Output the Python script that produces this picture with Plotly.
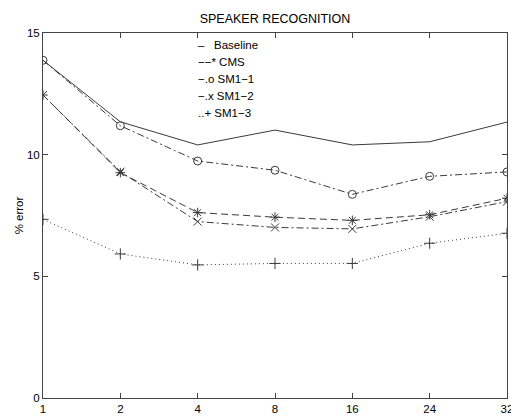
import plotly.graph_objects as go

categories = ["1", "2", "4", "8", "16", "24", "32"]
baseline = [13.88, 11.35, 10.40, 11.01, 10.40, 10.53, 11.34]
cms = [12.45, 9.26, 7.62, 7.43, 7.30, 7.53, 8.21]
sm1_1 = [13.88, 11.19, 9.74, 9.36, 8.37, 9.11, 9.29]
sm1_2 = [12.45, 9.30, 7.25, 7.01, 6.95, 7.45, 8.07]
sm1_3 = [7.34, 5.92, 5.47, 5.53, 5.53, 6.36, 6.77]
legend_labels = ["\u2013   Baseline", "\u2212\u2212* CMS", "\u2212.o SM1\u22121", "\u2212.x SM1\u22122", "..+ SM1\u22123"]
y_ticks = [0, 5, 10, 15]

xpos = list(range(len(categories)))
font = "Liberation Sans, Arial, Helvetica, sans-serif"
col = "#3a3a3a"

L, R, T, B = 43, 507, 33, 398

fig = go.Figure()
series = [
    (baseline, "solid", None),
    (cms, "7px,4px", "asterisk-open"),
    (sm1_1, "7px,3px,2px,3px", "circle-open"),
    (sm1_2, "7px,3px,2px,3px", "x-thin-open"),
    (sm1_3, "1px,3px", "cross-thin-open"),
]
for vals, dash, sym in series:
    if sym:
        fig.add_trace(go.Scatter(x=xpos, y=vals, mode="lines+markers",
                                 line=dict(color=col, width=1, dash=dash),
                                 marker=dict(symbol=sym, size=8, color=col, line=dict(width=1, color=col)),
                                 showlegend=False))
    else:
        fig.add_trace(go.Scatter(x=xpos, y=vals, mode="lines",
                                 line=dict(color=col, width=1, dash=dash),
                                 showlegend=False))

for i, lab in enumerate(legend_labels):
    fig.add_annotation(x=(196 - L) / (R - L), y=(B - (44.5 + 17.2 * i)) / (B - T),
                       xref="paper", yref="paper", text=lab,
                       showarrow=False, xanchor="left", yanchor="middle",
                       font=dict(family=font, size=11.5, color="black"))

fig.update_layout(
    width=511, height=416,
    margin=dict(l=L, r=511 - R, t=T, b=416 - B, autoexpand=False),
    paper_bgcolor="white", plot_bgcolor="white",
    title=dict(text="SPEAKER RECOGNITION", x=(275 / 511), xanchor="center", y=1 - 19 / 416, yanchor="middle",
               font=dict(family=font, size=12.5, color="black")),
    font=dict(family=font, size=11.5, color="black"),
)
fig.update_xaxes(range=[0, 6], tickmode="array", tickvals=xpos, ticktext=categories,
                 automargin=False,
                 showgrid=False, zeroline=False, showline=True, linecolor="#444", linewidth=1,
                 mirror="ticks", ticks="inside", ticklen=5, tickcolor="#444",
                 ticklabeloverflow="allow",
                 tickfont=dict(family=font, size=11.5, color="black"))
fig.update_yaxes(range=[0, 15], tickmode="array", tickvals=y_ticks,
                 automargin=False,
                 showgrid=False, zeroline=False, showline=True, linecolor="#444", linewidth=1,
                 mirror="ticks", ticks="inside", ticklen=5, tickcolor="#444",
                 title=dict(text="% error", standoff=0, font=dict(family=font, size=11.5, color="black")),
                 tickfont=dict(family=font, size=11.5, color="black"))

fig.write_html("out.html", config={"displayModeBar": False},
               post_script="document.body.style.margin='0';document.body.style.overflow='hidden';")
